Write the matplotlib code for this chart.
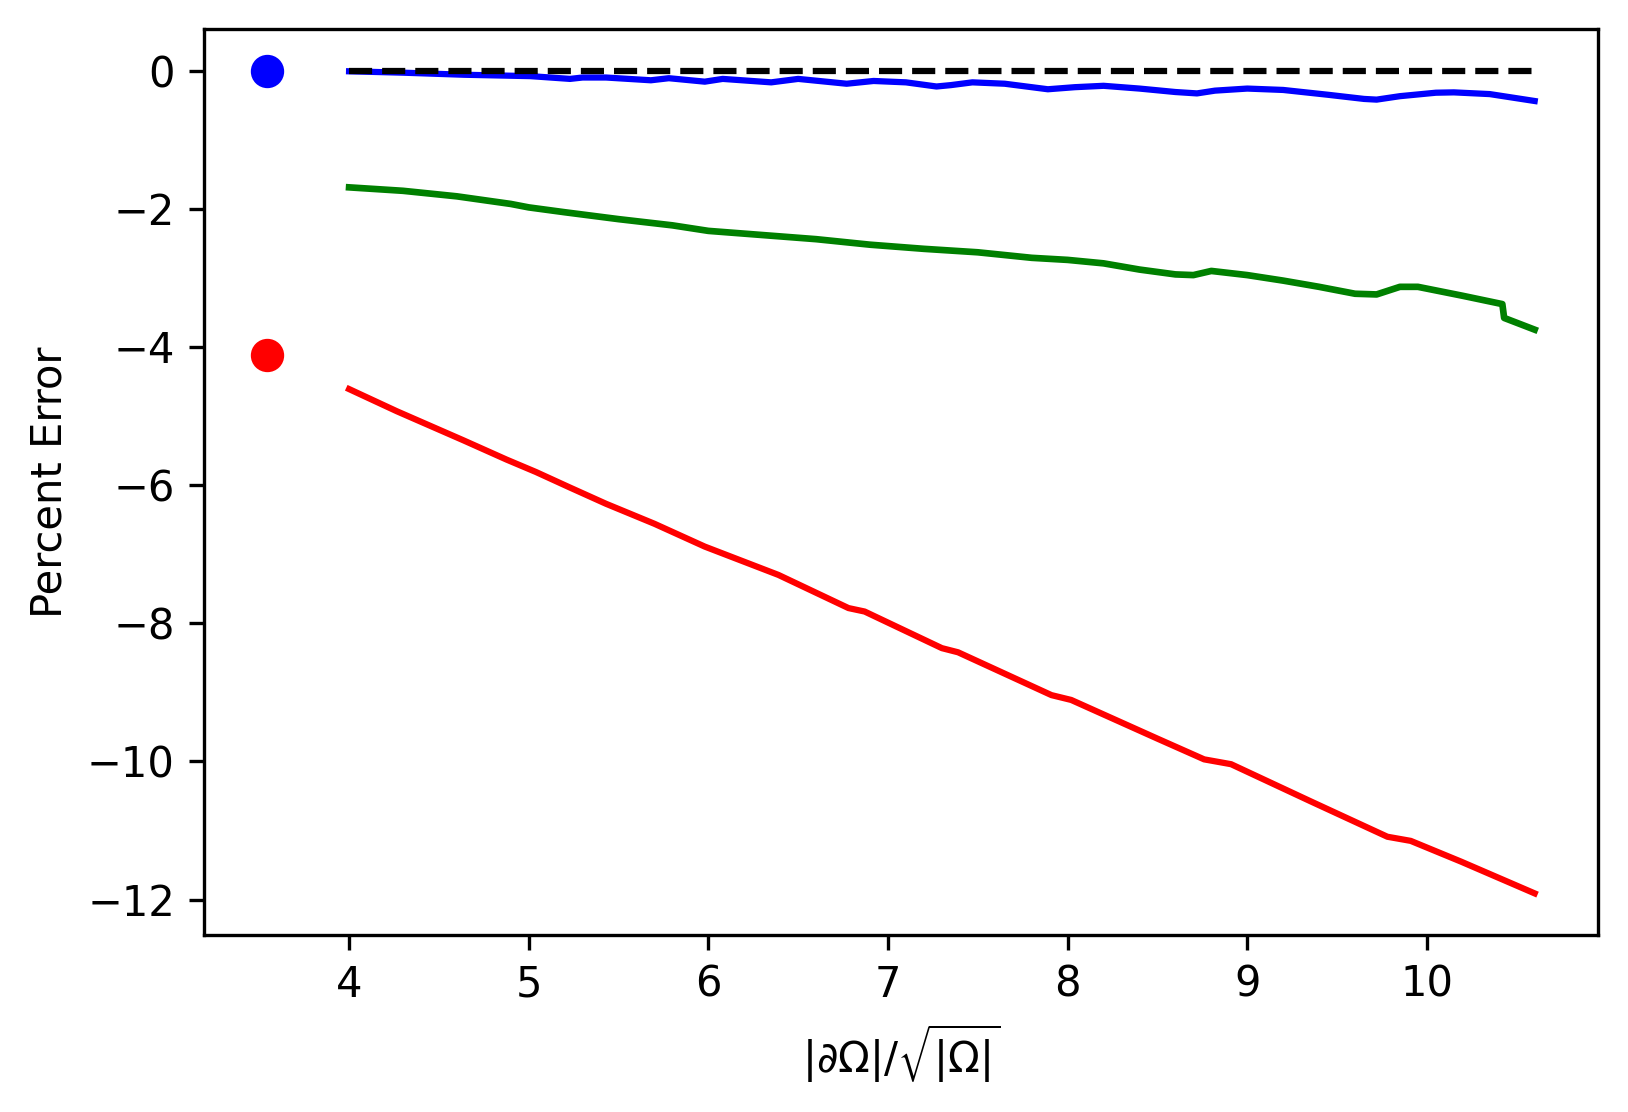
import numpy as np
import matplotlib
matplotlib.use("Agg")
import matplotlib.pyplot as plt

# single-point references (circle)
x_circle = 3.545
y_circle_blue = 0.0
y_circle_red = -4.11

# blue curve
x_blue = [4.0, 4.3, 4.64, 5.01, 5.23, 5.30, 5.43, 5.68, 5.78, 5.98, 6.08, 6.35,
          6.50, 6.77, 6.92, 7.10, 7.27, 7.35, 7.47, 7.65, 7.89, 8.04, 8.20, 8.40,
          8.60, 8.72, 8.82, 9.00, 9.20, 9.45, 9.65, 9.72, 9.85, 10.05, 10.15,
          10.35, 10.60]
y_blue = [-0.01, -0.03, -0.06, -0.08, -0.12, -0.10, -0.10, -0.14, -0.11, -0.16,
          -0.12, -0.17, -0.12, -0.19, -0.15, -0.17, -0.23, -0.21, -0.17, -0.19,
          -0.27, -0.24, -0.22, -0.26, -0.31, -0.33, -0.29, -0.26, -0.28, -0.35,
          -0.41, -0.42, -0.37, -0.32, -0.315, -0.34, -0.44]

# green curve
x_green = [4.0, 4.3, 4.6, 4.9, 5.0, 5.2, 5.5, 5.8, 6.0, 6.3, 6.6, 6.9, 7.2, 7.5,
           7.8, 8.0, 8.2, 8.4, 8.6, 8.7, 8.8, 9.0, 9.2, 9.4, 9.6, 9.72, 9.85,
           9.95, 10.2, 10.42, 10.43, 10.6]
y_green = [-1.69, -1.74, -1.82, -1.93, -1.98, -2.05, -2.15, -2.24, -2.32, -2.38,
           -2.44, -2.52, -2.58, -2.63, -2.71, -2.74, -2.79, -2.88, -2.95, -2.96,
           -2.90, -2.96, -3.04, -3.13, -3.23, -3.24, -3.13, -3.13, -3.26, -3.38,
           -3.58, -3.75]

# red curve
x_red = [4.0, 4.265, 4.635, 4.876, 5.04, 5.225, 5.43, 5.70, 5.98, 6.20, 6.39,
         6.78, 6.87, 7.30, 7.39, 7.91, 8.02, 8.50, 8.76, 8.91, 9.355, 9.78,
         9.91, 10.19, 10.60]
y_red = [-4.61, -4.93, -5.35, -5.63, -5.81, -6.03, -6.27, -6.56, -6.89, -7.11,
         -7.30, -7.78, -7.83, -8.36, -8.42, -9.04, -9.11, -9.67, -9.97, -10.04,
         -10.58, -11.09, -11.15, -11.45, -11.91]

fig = plt.figure(figsize=(1628 / 300, 1112 / 300), dpi=300)
ax = fig.add_axes([0.1253, 0.1596, 0.9816 - 0.1253, 0.9735 - 0.1596])

ax.plot([x_circle], [y_circle_blue], 'o', color='blue', markersize=7)
ax.plot([x_circle], [y_circle_red], 'o', color='red', markersize=7)
ax.plot(x_blue, y_blue, color='blue', lw=1.5)
ax.plot(x_green, y_green, color='green', lw=1.6)
ax.plot(x_red, y_red, color='red', lw=1.5)
ax.plot([x_red[0], x_red[-1]], [0, 0], 'k--', lw=1.5)

ax.set_xlabel(r'$|\partial\Omega|/\sqrt{|\Omega|}$')
ax.set_ylabel('Percent Error')

fig.savefig('out.png', dpi=300)
